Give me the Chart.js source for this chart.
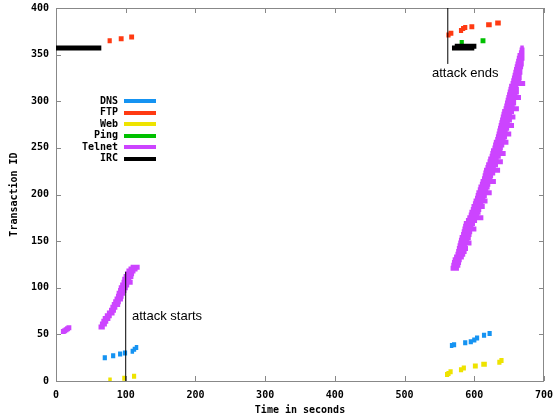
<!DOCTYPE html>
<html>
<head>
<meta charset="utf-8">
<script src="https://cdn.jsdelivr.net/npm/chart.js@4/dist/chart.umd.min.js"></script>
<style>
  html, body { margin: 0; padding: 0; background: #fff; }
</style>
</head>
<body>
<canvas id="c" width="554" height="420"></canvas>
<script>
// Each transaction: [start (s), end (s), transaction id]
const dnsTx = [
  [67, 73, 25], [79, 85, 27], [89, 95, 29], [96, 102, 30], [107, 112, 32], [110, 115, 34], [113, 118, 36],
  [565, 570, 38], [568, 574, 39], [584, 590, 41], [592, 598, 42], [597, 603, 44], [601, 607, 46],
  [611, 617, 49], [619, 625, 51],
];
const ftpTx = [
  [74, 80, 365], [90, 97, 367], [105, 112, 369],
  [560, 566, 371], [563, 570, 373], [578, 584, 376], [581, 587, 378], [584, 590, 379],
  [593, 600, 380], [617, 625, 382], [630, 638, 384],
];
const webTx = [
  [75, 80, 1], [95, 100, 3], [109, 115, 5],
  [558, 564, 7], [560, 566, 8], [563, 569, 10], [578, 584, 12], [582, 588, 14],
  [598, 605, 16], [610, 618, 18], [633, 639, 20], [636, 642, 22],
];
const pingTx = [[579, 585, 363], [609, 616, 365]];
const ircTx = [[-3, 65, 357], [568, 600, 357], [572, 603, 359]];
const telnetTx = [
  // before the attack
  [7, 14, 53], [9, 16, 54], [11, 18, 55], [13, 20, 56], [15, 22, 57],
  [61, 70, 58], [63, 73, 61], [65, 75, 64], [67, 78, 67], [70, 80, 70], [73, 84, 73],
  [76, 86, 76], [78, 88, 79], [80, 92, 82], [82, 93, 85], [84, 96, 88], [86, 97, 91],
  [87, 99, 94], [89, 101, 97], [90, 103, 100], [92, 105, 103], [94, 110, 106], [95, 108, 109],
  [97, 111, 112], [99, 112, 115], [101, 114, 118], [104, 117, 120], [107, 120, 122],
  // the attack
  [566, 578, 121], [567, 580, 124], [568, 581, 127], [569, 582, 130], [571, 585, 133],
  [573, 587, 136], [574, 589, 139], [575, 591, 142], [576, 590, 145], [577, 596, 148],
  [578, 593, 151], [579, 595, 154], [581, 596, 157], [582, 597, 160], [583, 603, 163],
  [584, 599, 166], [585, 601, 169], [588, 604, 172], [590, 613, 175], [592, 607, 178],
  [593, 609, 181], [595, 610, 184], [596, 615, 187], [598, 613, 190], [599, 619, 193],
  [601, 616, 196], [602, 618, 199], [603, 625, 202], [605, 620, 205], [606, 622, 208],
  [608, 623, 211], [609, 631, 214], [611, 626, 217], [612, 627, 220], [613, 630, 223],
  [614, 637, 226], [616, 631, 229], [617, 634, 232], [619, 641, 235], [620, 635, 238],
  [622, 638, 241], [623, 645, 244], [624, 640, 247], [626, 641, 250], [627, 643, 253],
  [628, 649, 256], [630, 645, 259], [631, 647, 262], [632, 653, 265], [633, 648, 268],
  [634, 650, 271], [635, 657, 274], [636, 651, 277], [637, 654, 280], [638, 659, 283],
  [639, 654, 286], [640, 657, 289], [642, 664, 292], [643, 658, 295], [644, 660, 298],
  [645, 660, 301], [646, 667, 304], [647, 662, 307], [648, 664, 310], [649, 664, 313],
  [650, 663, 316], [652, 673, 319], [653, 667, 322], [654, 668, 325], [655, 668, 328],
  [656, 669, 331], [657, 669, 334], [658, 670, 337], [659, 671, 340], [660, 671, 343],
  [661, 672, 346], [662, 672, 349], [664, 672, 352], [665, 672, 355], [666, 671, 357],
];

// attack markers: vertical line [x, yFrom, yTo] and a text anchor [x, y]
const attackStartLine = [100, 0, 117];
const attackEndLine = [562, 340, 400];
const notes = [
  { text: 'attack starts', x: 109, y: 69, align: 'left' },
  { text: 'attack ends', x: 587, y: 330, align: 'center' },
];

const MONO = 'bold 10px "DejaVu Sans Mono", monospace';
const FRAME = '#888888';

function segments(list) {
  const pts = [];
  list.forEach(([a, b, id]) => pts.push({ x: a, y: id }, { x: b, y: id }, { x: null, y: null }));
  return pts;
}
const vline = ([x, y0, y1]) => [{ x, y: y0 }, { x, y: y1 }];

const series = [
  { label: 'DNS', data: dnsTx, color: '#1593f2' },
  { label: 'FTP', data: ftpTx, color: '#ff3a12' },
  { label: 'Web', data: webTx, color: '#eee300' },
  { label: 'Ping', data: pingTx, color: '#00c000' },
  { label: 'Telnet', data: telnetTx, color: '#cc44ff' },
  { label: 'IRC', data: ircTx, color: '#000000' },
];

// first dataset is drawn on top in Chart.js, so markers first, then reversed series
const datasets = [
  { label: '', data: vline(attackStartLine), borderColor: '#000', borderWidth: 1 },
  { label: '', data: vline(attackEndLine), borderColor: '#000', borderWidth: 1 },
  ...series.slice().reverse().map(s => ({
    label: s.label, data: segments(s.data),
    borderColor: s.color, backgroundColor: s.color, borderWidth: 5,
  })),
];

const framePlugin = {
  id: 'frame',
  beforeDatasetsDraw(chart) {
    const { ctx, chartArea: a, scales: { x, y } } = chart;
    ctx.save();
    ctx.strokeStyle = FRAME;
    ctx.lineWidth = 1;
    ctx.strokeRect(a.left + 0.5, a.top + 0.5, a.right - a.left - 1, a.bottom - a.top);
    ctx.beginPath();
    x.ticks.forEach(t => {
      const px = Math.round(x.getPixelForValue(t.value)) + 0.5;
      ctx.moveTo(px, a.bottom); ctx.lineTo(px, a.bottom - 5);
      ctx.moveTo(px, a.top); ctx.lineTo(px, a.top + 5);
    });
    y.ticks.forEach(t => {
      const py = Math.round(y.getPixelForValue(t.value)) + 0.5;
      ctx.moveTo(a.left, py); ctx.lineTo(a.left + 5, py);
      ctx.moveTo(a.right, py); ctx.lineTo(a.right - 5, py);
    });
    ctx.stroke();
    ctx.restore();
  },
  afterDraw(chart) {
    const { ctx, chartArea: a, scales: { x, y } } = chart;
    ctx.save();
    // annotations
    ctx.fillStyle = '#000';
    ctx.font = '13px "Liberation Sans", Arial, sans-serif';
    ctx.textBaseline = 'middle';
    notes.forEach(n => {
      ctx.textAlign = n.align;
      ctx.fillText(n.text, x.getPixelForValue(n.x), y.getPixelForValue(n.y));
    });
    // gnuplot-style key
    ctx.font = MONO;
    ctx.textAlign = 'right';
    series.forEach((s, i) => {
      const ty = a.top + 93 + i * 11.5;
      ctx.fillStyle = '#000';
      ctx.fillText(s.label, a.left + 62, ty);
      ctx.fillStyle = s.color;
      ctx.fillRect(a.left + 68, Math.round(ty) - 2, 32, 4);
    });
    ctx.restore();
  },
};

const tickFont = { family: '"DejaVu Sans Mono", monospace', size: 10, weight: 'bold' };

new Chart(document.getElementById('c'), {
  type: 'scatter',
  data: { datasets },
  options: {
    responsive: false,
    animation: false,
    showLine: true,
    spanGaps: false,
    layout: { padding: { top: 8, right: 10, left: 0, bottom: 0 } },
    elements: {
      point: { radius: 0, hoverRadius: 0 },
      line: { borderCapStyle: 'butt', tension: 0, fill: false },
    },
    plugins: { legend: { display: false }, tooltip: { enabled: false } },
    scales: {
      x: {
        type: 'linear', min: 0, max: 700,
        ticks: { stepSize: 100, padding: 8, color: '#000', font: tickFont },
        grid: { display: false, drawTicks: false },
        border: { display: false },
        title: {
          display: true, text: 'Time in seconds', color: '#000', font: tickFont,
          padding: { top: 0, bottom: 4 },
        },
        afterFit: s => { s.height = 39; s.paddingLeft = 0; s.paddingRight = 0; },
      },
      y: {
        type: 'linear', min: 0, max: 400,
        ticks: { stepSize: 50, padding: 7, color: '#000', font: tickFont },
        grid: { display: false, drawTicks: false },
        border: { display: false },
        title: {
          display: true, text: 'Transaction ID', color: '#000', font: tickFont,
          padding: { top: 8, bottom: 0 },
        },
        afterFit: s => { s.width = 56; s.paddingTop = 0; s.paddingBottom = 0; },
      },
    },
  },
  plugins: [framePlugin],
});
</script>
</body>
</html>
